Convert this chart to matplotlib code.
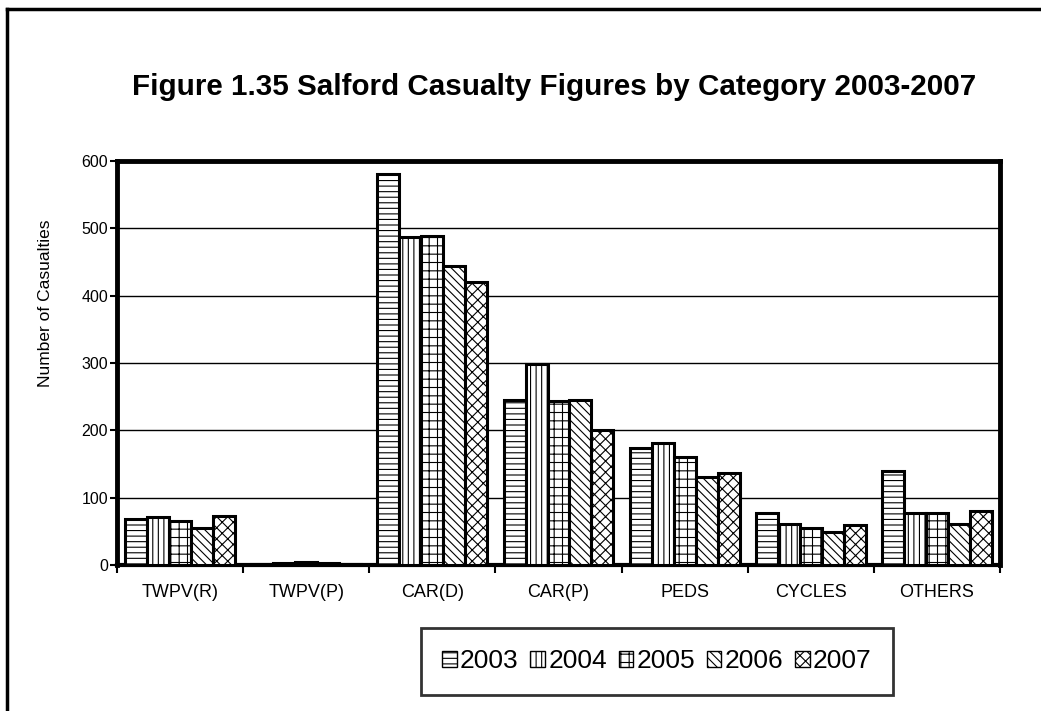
import matplotlib
matplotlib.use("Agg")
import matplotlib.pyplot as plt
import numpy as np
from matplotlib.lines import Line2D

plt.rcParams['font.family'] = ['Liberation Sans', 'DejaVu Sans']
plt.rcParams['hatch.linewidth'] = 0.8

categories = ["TWPV(R)", "TWPV(P)", "CAR(D)", "CAR(P)", "PEDS", "CYCLES", "OTHERS"]
years = ["2003", "2004", "2005", "2006", "2007"]
values = {
    "2003": [69, 2, 580, 245, 174, 77, 139],
    "2004": [71, 3, 487, 298, 181, 61, 77],
    "2005": [65, 4, 489, 243, 160, 55, 77],
    "2006": [55, 3, 444, 245, 131, 49, 61],
    "2007": [73, 2, 420, 200, 136, 59, 80],
}
hatches = ["---", "|||", "++", "\\\\\\\\", "xxx"]

fig = plt.figure(figsize=(10.41, 7.11), dpi=100)
ax = fig.add_axes([0.1124, 0.2053, 0.8482, 0.5683])

x = np.arange(len(categories))
n = len(years)
bw = 0.174
for i, yr in enumerate(years):
    pos = x - bw * (n - 1) / 2 + i * bw
    ax.bar(pos, values[yr], width=bw, color="white", edgecolor="black",
           linewidth=2.2, hatch=hatches[i], label=yr, zorder=3)

ax.set_xlim(-0.5, len(categories) - 0.5)
ax.set_ylim(0, 600)
ax.set_yticks(range(0, 601, 100))
ax.yaxis.grid(True, color="black", linewidth=1.0, zorder=0)
ax.set_xticks(x)
ax.set_xticklabels(categories, fontsize=13)
ax.set_xticks(np.arange(-0.5, len(categories), 1.0), minor=True)
ax.tick_params(axis="x", which="major", length=0, pad=14)
ax.tick_params(axis="x", which="minor", length=6, width=1.5, direction="out")
ax.tick_params(axis="y", length=5, width=1.5, direction="out", labelsize=11.5, pad=1.5)
ax.set_ylabel("Number of Casualties", fontsize=12.5)
ax.yaxis.set_label_coords(-0.073, 0.648)

for side in ["left", "top", "right"]:
    ax.spines[side].set_linewidth(3.5)
ax.spines["bottom"].set_linewidth(3.0)

fig.text(0.532, 0.878, "Figure 1.35 Salford Casualty Figures by Category 2003-2007",
         ha="center", va="center", fontsize=21.3, fontweight="bold")

leg = fig.legend(loc="center", bbox_to_anchor=(0.631, 0.070), ncol=5,
                 fontsize=19, frameon=True, fancybox=False, borderpad=0.82,
                 handlelength=0.55, handleheight=0.55, handletextpad=0.12,
                 columnspacing=0.45)
leg.get_frame().set_edgecolor("black")
leg.get_frame().set_linewidth(2.0)
for p in leg.get_patches():
    p.set_linewidth(1.0)

# outer chart frame (left and top edges visible)
fig.add_artist(Line2D([0.0072, 0.0072], [0, 0.988], color="black", lw=2.5,
                      transform=fig.transFigure))
fig.add_artist(Line2D([0.0072, 1.0], [0.988, 0.988], color="black", lw=2.5,
                      transform=fig.transFigure))

fig.savefig("out.png", dpi=100)
